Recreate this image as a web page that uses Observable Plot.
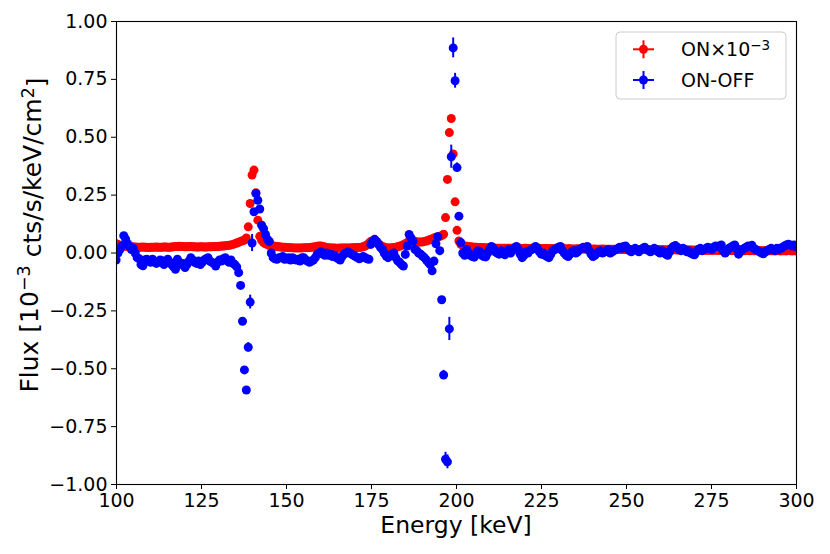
<!DOCTYPE html>
<html>
<head>
<meta charset="utf-8">
<script src="https://cdn.jsdelivr.net/npm/d3@7"></script>
<script src="https://cdn.jsdelivr.net/npm/@observablehq/plot@0.6"></script>
<style>
  html, body { margin: 0; padding: 0; background: #fff; }
  #chart svg { display: block; }
</style>
</head>
<body>
<div id="chart"></div>
<script>
// Energy bins (keV): regular channel grid
const binStart = 99.32;
const binWidth = 0.5633;

// ON-OFF flux (10^-3 cts/s/keV/cm^2), one value per bin
const onOffFlux = [
  -0.01, -0.03, 0.0, 0.015, 0.03, 0.075, 0.06, 0.04, 0.03, 0.015,
  0.02, 0.0, -0.02, -0.025, -0.05, -0.055, -0.03, -0.027, -0.035, -0.04,
  -0.027, -0.035, -0.045, -0.04, -0.03, -0.034, -0.05, -0.04, -0.027, -0.04,
  -0.05, -0.06, -0.07, -0.027, -0.04, -0.05, -0.045, -0.063, -0.05, -0.035,
  -0.02, -0.03, -0.04, -0.045, -0.035, -0.05, -0.04, -0.03, -0.025, -0.02,
  -0.035, -0.04, -0.045, -0.056, -0.04, -0.03, -0.035, -0.025, -0.02, -0.034,
  -0.04, -0.03, -0.045, -0.05, -0.06, -0.085, -0.14, -0.295, -0.505, -0.592,
  -0.407, -0.212, 0.043, 0.178, 0.257, 0.228, 0.19, 0.12, 0.105, 0.08,
  0.06, 0.05, 0.0, -0.02, -0.025, -0.027, -0.02, -0.02, -0.015, -0.027,
  -0.025, -0.02, -0.03, -0.02, -0.025, -0.03, -0.027, -0.035, -0.02, -0.02,
  -0.03, -0.035, -0.04, -0.035, -0.03, -0.02, -0.005, 0.0, 0.005, -0.005,
  -0.01, 0.0, -0.01, -0.005, -0.015, -0.01, -0.02, -0.025, -0.03, -0.015,
  -0.005, 0.0, 0.005, 0.0, -0.005, -0.01, -0.015, -0.02, -0.025, -0.02,
  -0.015, -0.02, -0.025, -0.027, 0.037, 0.05, 0.059, 0.05, 0.037, 0.025,
  0.016, 0.0, -0.013, -0.02, -0.01, -0.005, 0.0, -0.02, -0.034, -0.04,
  -0.05, -0.056, -0.006, 0.03, 0.08, 0.065, 0.05, 0.016, 0.01, 0.0,
  -0.005, -0.013, -0.02, -0.03, -0.04, -0.05, -0.077, -0.035, 0.04, 0.07,
  0.01, -0.202, -0.527, -0.891, -0.902, -0.328, 0.416, 0.886, 0.744, 0.369,
  0.159, 0.045, 0.0, -0.01, 0.015, 0.0, -0.01, -0.015, -0.018, 0.0,
  0.01, 0.005, -0.01, -0.015, -0.017, 0.0, 0.015, 0.028, 0.02, 0.005,
  0.0, -0.005, 0.01, 0.0, -0.008, 0.005, 0.015, 0.0, 0.01, 0.02,
  0.028, 0.015, -0.005, -0.02, -0.01, 0.005, 0.0, 0.01, 0.015, 0.02,
  0.028, 0.02, 0.005, -0.005, 0.0, -0.01, -0.015, -0.02, -0.005, 0.01,
  0.015, 0.02, 0.025, 0.028, 0.01, 0.0, -0.01, -0.015, -0.005, 0.005,
  0.01, 0.0, 0.005, 0.015, 0.02, 0.025, 0.02, 0.028, 0.01, -0.005,
  -0.015, -0.01, 0.0, 0.005, 0.01, 0.0, 0.005, 0.01, 0.015, 0.0,
  0.005, 0.01, 0.015, 0.02, 0.025, 0.02, 0.028, 0.03, 0.02, 0.01,
  0.005, 0.015, 0.02, 0.01, 0.005, 0.015, 0.02, 0.025, 0.015, 0.01,
  0.005, 0.01, 0.02, 0.015, 0.005, 0.0, 0.01, 0.005, -0.005, -0.01,
  0.005, 0.02, 0.028, 0.032, 0.025, 0.015, 0.01, 0.02, 0.015, 0.005,
  0.01, 0.0, -0.005, -0.008, 0.005, 0.015, 0.02, 0.01, 0.015, 0.02,
  0.025, 0.02, 0.015, 0.025, 0.03, 0.028, 0.03, 0.035, 0.01, 0.0,
  0.01, 0.02, 0.025, 0.03, 0.035, 0.02, -0.005, 0.005, 0.015, 0.02,
  0.025, 0.03, 0.028, 0.033, 0.02, 0.015, 0.01, 0.005, 0.0, -0.003,
  0.005, 0.01, 0.015, 0.02, 0.015, 0.01, 0.02, 0.015, 0.02, 0.025,
  0.03, 0.035, 0.038, 0.035, 0.03, 0.035, 0.028
];

// ON flux x 10^-3, one value per bin
const onFlux = [
  0.045, 0.04, 0.037, 0.034, 0.032, 0.03, 0.029, 0.028, 0.027, 0.027,
  0.026, 0.026, 0.025, 0.025, 0.025, 0.026, 0.025, 0.025, 0.024, 0.025,
  0.025, 0.025, 0.026, 0.025, 0.025, 0.025, 0.026, 0.026, 0.025, 0.025,
  0.026, 0.027, 0.028, 0.028, 0.029, 0.028, 0.028, 0.027, 0.027, 0.028,
  0.028, 0.027, 0.027, 0.026, 0.026, 0.027, 0.027, 0.026, 0.026, 0.027,
  0.027, 0.027, 0.028, 0.028, 0.028, 0.029, 0.03, 0.03, 0.031, 0.032,
  0.033, 0.035, 0.037, 0.04, 0.043, 0.046, 0.05, 0.053, 0.056, 0.065,
  0.113, 0.214, 0.337, 0.358, 0.26, 0.142, 0.072, 0.055, 0.045, 0.04,
  0.036, 0.033, 0.031, 0.03, 0.029, 0.028, 0.027, 0.026, 0.025, 0.025,
  0.024, 0.024, 0.023, 0.023, 0.022, 0.022, 0.022, 0.022, 0.022, 0.023,
  0.023, 0.023, 0.024, 0.025, 0.026, 0.027, 0.029, 0.03, 0.03, 0.028,
  0.026, 0.024, 0.023, 0.022, 0.022, 0.022, 0.021, 0.021, 0.022, 0.022,
  0.022, 0.022, 0.022, 0.022, 0.023, 0.023, 0.023, 0.024, 0.024, 0.025,
  0.027, 0.03, 0.035, 0.042, 0.05, 0.053, 0.052, 0.047, 0.04, 0.033,
  0.028, 0.025, 0.023, 0.022, 0.022, 0.023, 0.024, 0.025, 0.027, 0.029,
  0.032, 0.036, 0.04, 0.045, 0.05, 0.053, 0.053, 0.05, 0.048, 0.047,
  0.047, 0.048, 0.05, 0.052, 0.055, 0.058, 0.061, 0.065, 0.068, 0.07,
  0.072, 0.075, 0.081, 0.153, 0.318, 0.52, 0.581, 0.428, 0.221, 0.098,
  0.052, 0.038, 0.033, 0.03, 0.029, 0.028, 0.027, 0.026, 0.025, 0.025,
  0.024, 0.024, 0.023, 0.023, 0.023, 0.022, 0.022, 0.022, 0.022, 0.021,
  0.021, 0.021, 0.021, 0.021, 0.02, 0.021, 0.02, 0.02, 0.02, 0.021,
  0.02, 0.02, 0.02, 0.019, 0.02, 0.02, 0.019, 0.019, 0.02, 0.019,
  0.019, 0.019, 0.019, 0.019, 0.018, 0.019, 0.019, 0.018, 0.018, 0.019,
  0.018, 0.018, 0.018, 0.018, 0.018, 0.018, 0.017, 0.018, 0.018, 0.017,
  0.017, 0.017, 0.018, 0.017, 0.017, 0.017, 0.017, 0.016, 0.017, 0.017,
  0.016, 0.017, 0.016, 0.016, 0.016, 0.017, 0.016, 0.016, 0.016, 0.016,
  0.016, 0.016, 0.015, 0.016, 0.016, 0.015, 0.016, 0.015, 0.015, 0.015,
  0.015, 0.015, 0.015, 0.015, 0.015, 0.014, 0.015, 0.015, 0.014, 0.015,
  0.014, 0.014, 0.015, 0.014, 0.014, 0.014, 0.014, 0.014, 0.013, 0.014,
  0.014, 0.013, 0.014, 0.014, 0.013, 0.013, 0.014, 0.013, 0.013, 0.013,
  0.013, 0.013, 0.013, 0.012, 0.013, 0.013, 0.012, 0.013, 0.012, 0.012,
  0.012, 0.012, 0.012, 0.012, 0.012, 0.012, 0.011, 0.012, 0.012, 0.011,
  0.011, 0.012, 0.011, 0.011, 0.011, 0.011, 0.011, 0.011, 0.011, 0.01,
  0.011, 0.011, 0.01, 0.011, 0.01, 0.01, 0.011, 0.01, 0.01, 0.01,
  0.01, 0.01, 0.01, 0.01, 0.01, 0.01, 0.01, 0.01, 0.009, 0.01,
  0.01, 0.009, 0.015, 0.01, 0.009, 0.01, 0.009
];

// ON-OFF bins with visible error bars, and their half-lengths
const errBins = [70, 71, 72, 172, 173, 174, 175, 176, 177, 178, 179];
const errSizes = [0.02, 0.03, 0.037, 0.02, 0.03, 0.03, 0.05, 0.05, 0.043, 0.032, 0.02];
const defaultErr = 0.006;

const xTicks = [100, 125, 150, 175, 200, 225, 250, 275, 300];
const yTicks = [-1.0, -0.75, -0.5, -0.25, 0.0, 0.25, 0.5, 0.75, 1.0];

const RED = "#ff0000", BLUE = "#0000ff";

const rows = onOffFlux.map((v, i) => {
  const k = errBins.indexOf(i);
  return {E: binStart + binWidth * i, on: onFlux[i], diff: v, err: k >= 0 ? errSizes[k] : defaultErr};
});

const W = 830, H = 554;
const mL = 116, mR = 34, mT = 21, mB = 70;
const R = 4.5;

const chart = Plot.plot({
  width: W, height: H,
  marginLeft: mL, marginRight: mR, marginTop: mT, marginBottom: mB,
  style: {fontFamily: "DejaVu Sans", fontSize: "19px", color: "black", background: "white"},
  x: {domain: [100, 300]},
  y: {domain: [-1, 1]},
  marks: [
    Plot.dot(rows, {x: "E", y: "on", r: R, fill: RED, clip: true}),
    Plot.ruleX(rows, {x: "E", y1: d => d.diff - d.err, y2: d => d.diff + d.err, stroke: BLUE, strokeWidth: 2, clip: true}),
    Plot.dot(rows, {x: "E", y: "diff", r: R, fill: BLUE, clip: true}),
    Plot.frame({stroke: "black", strokeWidth: 1.1}),
    Plot.axisX({ticks: xTicks, tickSize: 5, tickPadding: 4, tickFormat: d => String(d), label: null, fontSize: 19}),
    Plot.axisY({ticks: yTicks, tickSize: 5, tickPadding: 4, tickFormat: d3.format(".2f"), label: null, fontSize: 19})
  ]
});

document.getElementById("chart").appendChild(chart);

const svg = d3.select(chart);

// X axis label
svg.append("text")
  .attr("x", mL + (W - mL - mR) / 2)
  .attr("y", 533)
  .attr("text-anchor", "middle")
  .style("font-family", "DejaVu Sans")
  .style("font-size", "23.5px")
  .attr("fill", "black")
  .text("Energy [keV]");

// Y axis label with superscripts
const yl = svg.append("text")
  .attr("transform", "translate(38,235) rotate(-90)")
  .attr("text-anchor", "middle")
  .style("font-family", "DejaVu Sans")
  .style("font-size", "25px")
  .attr("fill", "black");
yl.append("tspan").text("Flux [10");
yl.append("tspan").attr("dy", "-0.45em").style("font-size", "17.5px").text("\u22123");
yl.append("tspan").attr("dy", "0.45em").text(" cts/s/keV/cm");
yl.append("tspan").attr("dy", "-0.45em").style("font-size", "17.5px").text("2");
yl.append("tspan").attr("dy", "0.45em").text("]");

// Legend
const lg = svg.append("g").attr("text-anchor", "start");
lg.append("rect")
  .attr("x", 616).attr("y", 32).attr("width", 170).attr("height", 67)
  .attr("rx", 4).attr("fill", "white").attr("fill-opacity", 0.8)
  .attr("stroke", "#cccccc").attr("stroke-width", 1);
const entries = [
  {color: RED, y: 49.3, label: "ON\u00d710", sup: "\u22123"},
  {color: BLUE, y: 80, label: "ON-OFF", sup: null}
];
entries.forEach(e => {
  lg.append("line").attr("x1", 633).attr("x2", 654).attr("y1", e.y).attr("y2", e.y)
    .attr("stroke", e.color).attr("stroke-width", 2);
  lg.append("line").attr("x1", 643.5).attr("x2", 643.5).attr("y1", e.y - 9).attr("y2", e.y + 9)
    .attr("stroke", e.color).attr("stroke-width", 2);
  lg.append("circle").attr("cx", 643.5).attr("cy", e.y).attr("r", R).attr("fill", e.color);
  const t = lg.append("text").attr("x", 681).attr("y", e.y + 7)
    .attr("text-anchor", "start")
    .style("font-family", "DejaVu Sans").style("font-size", "19px").attr("fill", "black");
  t.append("tspan").text(e.label);
  if (e.sup) t.append("tspan").attr("dy", "-0.5em").style("font-size", "13.5px").text(e.sup);
});
</script>
</body>
</html>
